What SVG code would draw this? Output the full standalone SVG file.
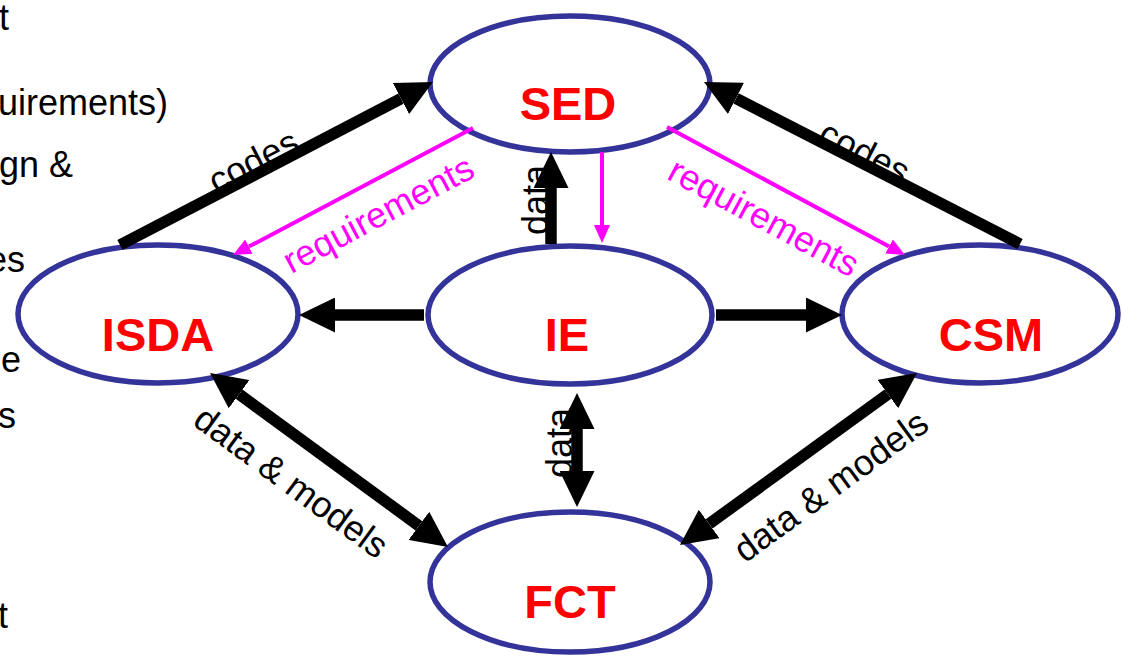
<svg xmlns="http://www.w3.org/2000/svg" width="1122" height="656" viewBox="0 0 1122 656">
<style>
.node{fill:#ffffff;stroke:#333399;stroke-width:5.5}
.nlabel{font-family:"Liberation Sans",Arial,sans-serif;font-weight:bold;font-size:47px;fill:#ff0000;text-anchor:middle}
.side{font-family:"Liberation Sans",Arial,sans-serif;font-size:36px;fill:#000000;text-anchor:end}
.lbl{font-family:"Liberation Sans",Arial,sans-serif;font-size:36px;fill:#000000;text-anchor:middle}
.mlbl{font-family:"Liberation Sans",Arial,sans-serif;font-size:36px;fill:#ff00ff;text-anchor:middle}
.thick{stroke:#000000;stroke-width:11.5;fill:none}
.mag{stroke:#ff00ff;stroke-width:4;fill:none}
</style>
<defs>
<marker id="hb" markerUnits="userSpaceOnUse" markerWidth="36" markerHeight="35" viewBox="0 0 36 35" refX="0" refY="17.5" orient="auto-start-reverse"><path d="M0,0 L36,17.5 L0,35 z" fill="#000000"/></marker>
<marker id="hm" markerUnits="userSpaceOnUse" markerWidth="18" markerHeight="16" viewBox="0 0 18 16" refX="0" refY="8" orient="auto"><path d="M0,0 L18,8 L0,16 z" fill="#ff00ff"/></marker>
</defs>
<g id="side-text">
<text class="side" x="9" y="30">t</text>
<text class="side" x="168" y="115">uirements)</text>
<text class="side" x="73" y="177">gn &amp;</text>
<text class="side" x="25" y="272">es</text>
<text class="side" x="21" y="372">e</text>
<text class="side" x="16" y="428">s</text>
<text class="side" x="8" y="628">t</text>
</g>
<g id="node-SED"><ellipse class="node" cx="570" cy="84" rx="140" ry="68"/><text class="nlabel" x="568" y="120">SED</text></g>
<g id="node-ISDA"><ellipse class="node" cx="158" cy="314" rx="140" ry="69"/><text class="nlabel" x="158" y="351">ISDA</text></g>
<g id="node-IE"><ellipse class="node" cx="570" cy="315" rx="142" ry="69"/><text class="nlabel" x="567" y="351">IE</text></g>
<g id="node-CSM"><ellipse class="node" cx="980" cy="314" rx="138" ry="69"/><text class="nlabel" x="991" y="351">CSM</text></g>
<g id="node-FCT"><ellipse class="node" cx="570" cy="582" rx="140" ry="70"/><text class="nlabel" x="570" y="618">FCT</text></g>
<g id="connectors">
<text class="lbl" x="259" y="172" transform="rotate(-27.5 259 172)">codes</text>
<text class="lbl" x="859" y="163" transform="rotate(27.1 859 163)">codes</text>
<text class="mlbl" x="384" y="225" transform="rotate(-27.9 384 225)">requirements</text>
<text class="mlbl" x="758" y="228" transform="rotate(28.3 758 228)">requirements</text>
<text class="lbl" transform="translate(548 200) rotate(-90)">data</text>
<text class="lbl" transform="translate(572 443) rotate(-90)">data</text>
<text class="lbl" x="284" y="492" transform="rotate(36.2 284 492)">data &amp; models</text>
<text class="lbl" x="838" y="496" transform="rotate(-36 838 496)">data &amp; models</text>
<line class="thick" x1="120" y1="245" x2="401" y2="98.6" marker-end="url(#hb)"/>
<line class="thick" x1="1020" y1="244" x2="736" y2="98.4" marker-end="url(#hb)"/>
<line class="thick" x1="551" y1="244" x2="551" y2="188" marker-end="url(#hb)"/>
<line class="thick" x1="424" y1="315" x2="335" y2="315" marker-end="url(#hb)"/>
<line class="thick" x1="716" y1="315" x2="806" y2="315" marker-end="url(#hb)"/>
<line class="thick" x1="577" y1="429" x2="577" y2="471" marker-start="url(#hb)" marker-end="url(#hb)"/>
<line class="thick" x1="239.1" y1="394.2" x2="418.9" y2="525.8" marker-start="url(#hb)" marker-end="url(#hb)"/>
<line class="thick" x1="887.9" y1="394.1" x2="709.1" y2="523.9" marker-start="url(#hb)" marker-end="url(#hb)"/>
<line class="mag" x1="473" y1="128" x2="248.9" y2="246.6" marker-end="url(#hm)"/>
<line class="mag" x1="667" y1="127" x2="889.1" y2="246.5" marker-end="url(#hm)"/>
<line class="mag" x1="602" y1="152" x2="602" y2="225" marker-end="url(#hm)"/>
</g>
</svg>
